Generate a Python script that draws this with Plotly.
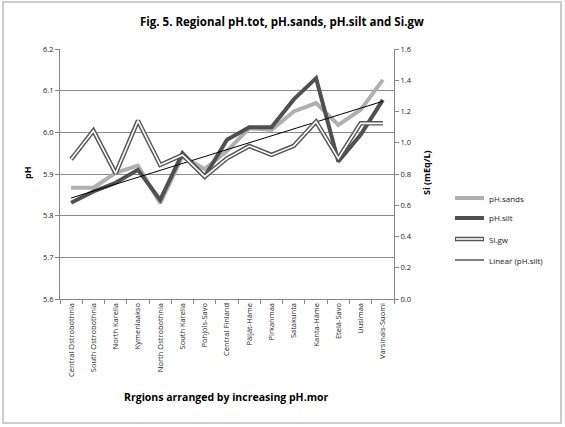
import numpy as np
import plotly.graph_objects as go

regions = ["Central Ostrobothnia", "South Ostrobothnia", "North Karelia", "Kymenlaakso",
           "North Ostrobothnia", "South Karelia", "Pohjois-Savo", "Central Finland",
           "Päijät-Häme", "Pirkanmaa", "Satakunta", "Kanta-Häme", "Etelä-Savo",
           "Uusimaa", "Varsinais-Suomi"]
ph_sands = [5.867, 5.867, 5.903, 5.920, 5.830, 5.942, 5.912, 5.955, 6.010, 6.006,
            6.050, 6.070, 6.018, 6.054, 6.126]
ph_silt = [5.831, 5.858, 5.879, 5.910, 5.838, 5.950, 5.894, 5.982, 6.012, 6.012,
           6.079, 6.130, 5.930, 5.994, 6.078]
si_gw = [0.894, 1.077, 0.804, 1.141, 0.858, 0.922, 0.783, 0.900, 0.979, 0.922,
         0.980, 1.135, 0.900, 1.124, 1.124]
left_ticks = [5.6, 5.7, 5.8, 5.9, 6.0, 6.1, 6.2]
right_ticks = [0.0, 0.2, 0.4, 0.6, 0.8, 1.0, 1.2, 1.4, 1.6]

# linear trend of pH.silt
idx = np.arange(1, len(ph_silt) + 1)
k, b = np.polyfit(idx, ph_silt, 1)
trend = list(k * idx + b)

FONT = "Open Sans"
fig = go.Figure()
fig.add_trace(go.Scatter(x=regions, y=si_gw, mode="lines", yaxis="y2",
                         line=dict(color="#555555", width=4.5), showlegend=False))
fig.add_trace(go.Scatter(x=regions, y=si_gw, mode="lines", yaxis="y2",
                         line=dict(color="white", width=1.6), showlegend=False))
fig.add_trace(go.Scatter(x=regions, y=ph_sands, mode="lines",
                         line=dict(color="#b0b0b0", width=4), showlegend=False))
fig.add_trace(go.Scatter(x=regions, y=ph_silt, mode="lines",
                         line=dict(color="#505050", width=4), showlegend=False))
fig.add_trace(go.Scatter(x=regions, y=trend, mode="lines",
                         line=dict(color="black", width=1), showlegend=False))

# plot area: x 60..394 px, y 49..299 px
def px_x(p):
    return (p - 60) / 334.0

def px_y(p):
    return (299 - p) / 250.0

shapes = [dict(type="rect", xref="paper", yref="paper",
               x0=px_x(3), x1=px_x(561), y0=px_y(423), y1=px_y(2),
               line=dict(color="#bdbdbd", width=1.5), layer="below")]
annotations = []
legend_items = [("pH.sands", "#b0b0b0", 4, 198), ("pH.silt", "#505050", 4, 218),
                ("Si.gw", None, 4, 239), ("Linear (pH.silt)", "black", 1, 260)]
for name, col, w, ypx in legend_items:
    if col is None:
        shapes.append(dict(type="line", xref="paper", yref="paper",
                           x0=px_x(455), x1=px_x(484), y0=px_y(ypx), y1=px_y(ypx),
                           line=dict(color="#555555", width=4.5)))
        shapes.append(dict(type="line", xref="paper", yref="paper",
                           x0=px_x(456), x1=px_x(483), y0=px_y(ypx), y1=px_y(ypx),
                           line=dict(color="white", width=1.6)))
    else:
        shapes.append(dict(type="line", xref="paper", yref="paper",
                           x0=px_x(455), x1=px_x(484), y0=px_y(ypx), y1=px_y(ypx),
                           line=dict(color=col, width=w)))
    annotations.append(dict(text=name, xref="paper", yref="paper", x=px_x(487), y=px_y(ypx),
                            xanchor="left", yanchor="middle", showarrow=False,
                            font=dict(family=FONT, size=8, color="#222222")))

annotations.append(dict(text="<b>Fig. 5. Regional pH.tot, pH.sands, pH.silt and Si.gw</b>",
                        xref="paper", yref="paper", x=px_x(282), y=px_y(22),
                        xanchor="center", yanchor="middle", showarrow=False,
                        font=dict(family=FONT, size=11.5, color="black")))
annotations.append(dict(text="<b>Rrgions arranged by increasing pH.mor</b>",
                        xref="paper", yref="paper", x=px_x(226), y=px_y(397),
                        xanchor="center", yanchor="middle", showarrow=False,
                        font=dict(family=FONT, size=10.5, color="black")))
annotations.append(dict(text="<b>pH</b>", xref="paper", yref="paper", x=px_x(27), y=px_y(173),
                        xanchor="center", yanchor="middle", showarrow=False, textangle=-90,
                        font=dict(family=FONT, size=9, color="black")))
annotations.append(dict(text="<b>Si (mEq/L)</b>", xref="paper", yref="paper", x=px_x(426), y=px_y(173),
                        xanchor="center", yanchor="middle", showarrow=False, textangle=-90,
                        font=dict(family=FONT, size=9, color="black")))

fig.update_layout(
    width=565, height=427,
    margin=dict(l=60, r=171, t=49, b=128),
    paper_bgcolor="white", plot_bgcolor="white",
    showlegend=False,
    shapes=shapes, annotations=annotations,
    xaxis=dict(type="category", categoryorder="array", categoryarray=regions,
               tickangle=-90, tickfont=dict(family=FONT, size=7.5, color="#222222"),
               showgrid=False, showline=True, linecolor="#868686", linewidth=1,
               ticks="outside", ticklen=4, tickcolor="#868686", tickson="boundaries",
               zeroline=False, range=[-0.5, len(regions) - 0.5]),
    yaxis=dict(range=[5.6, 6.2], tickvals=left_ticks,
               ticktext=[f"{v:.1f}" for v in left_ticks],
               tickfont=dict(family=FONT, size=7.5, color="#222222"),
               showgrid=True, gridcolor="#8a8a8a", gridwidth=1,
               showline=True, linecolor="#868686", linewidth=1,
               ticks="outside", ticklen=4, tickcolor="#868686", zeroline=False),
    yaxis2=dict(range=[0, 1.6], tickvals=right_ticks,
                ticktext=[f"{v:.1f}" for v in right_ticks],
                overlaying="y", side="right",
                tickfont=dict(family=FONT, size=7.5, color="#222222"),
                showgrid=False, showline=True, linecolor="#868686", linewidth=1,
                ticks="outside", ticklen=4, tickcolor="#868686", zeroline=False),
)

fig.write_html("out.html")
